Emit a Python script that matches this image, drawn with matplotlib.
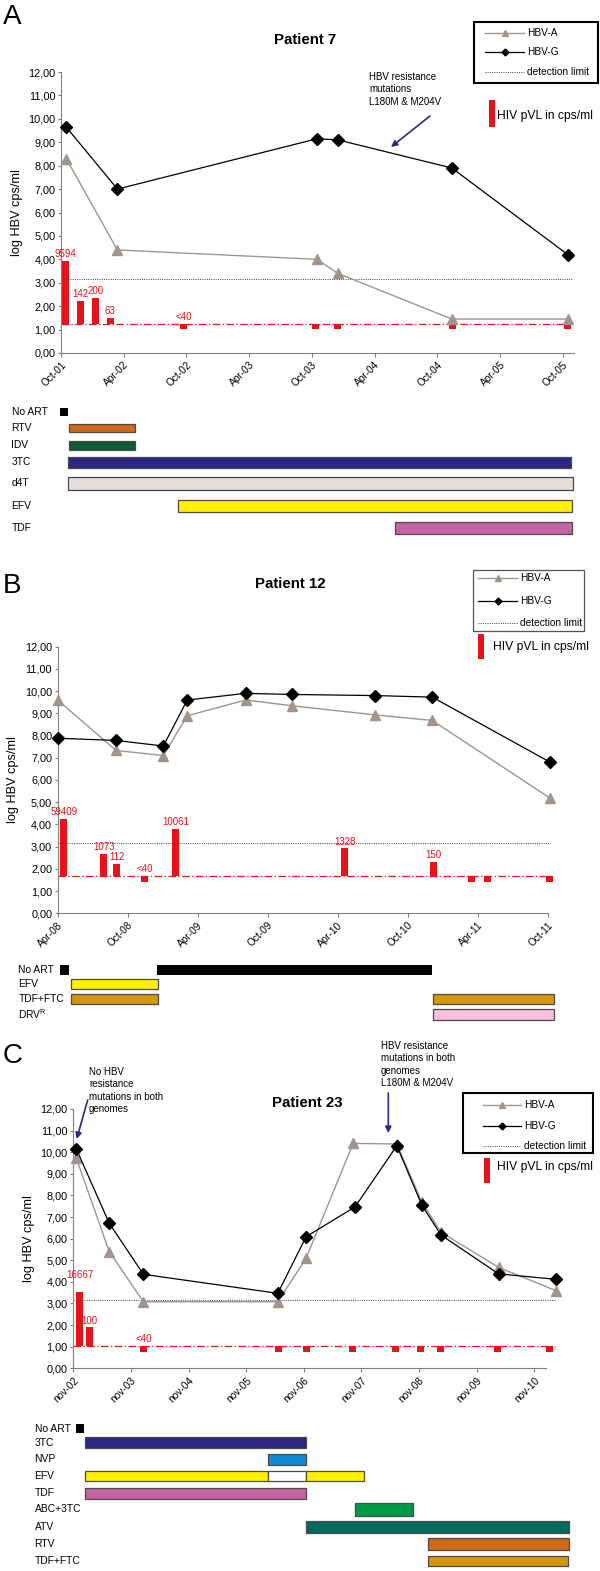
import numpy as np
import matplotlib.pyplot as plt
from matplotlib.patches import Rectangle

plt.rcParams['font.family'] = ['Liberation Sans', 'DejaVu Sans']

W, H = 600, 1571

############ data (x in months since first tick) ############
# Patient 7
a_ticks = ['Oct-01', 'Apr-02', 'Oct-02', 'Apr-03', 'Oct-03', 'Apr-04', 'Oct-04', 'Apr-05', 'Oct-05']
a_hbv_x = [0.5, 5.4, 24.5, 26.5, 37.4, 48.5]
a_hbv_a = [8.3, 4.4, 4.0, 3.4, 1.45, 1.45]
a_hbv_g = [9.65, 7.0, 9.15, 9.1, 7.9, 4.2]
a_hiv_x = [0.4, 1.9, 3.3, 4.7, 11.7, 24.4, 26.5, 37.5, 48.5]
a_hiv_top = [3.95, 2.22, 2.36, 1.5, 1.03, 1.03, 1.03, 1.03, 1.03]
a_hiv_lab = ['9594', '142', '200', '63', '<40', '', '', '', '']
a_hiv_base = 1.25
a_drugs = ['No ART', 'RTV', 'IDV', '3TC', 'd4T', 'EFV', 'TDF']
a_seg_drug = ['No ART', 'RTV', 'IDV', '3TC', 'd4T', 'EFV', 'TDF']
a_seg_start = [-0.1, 0.77, 0.77, 0.7, 0.7, 11.2, 32.0]
a_seg_end = [0.7, 7.1, 7.1, 48.8, 49.0, 48.9, 48.9]

# Patient 12
b_ticks = ['Apr-08', 'Oct-08', 'Apr-09', 'Oct-09', 'Apr-10', 'Oct-10', 'Apr-11', 'Oct-11']
b_hbv_x = [0, 5.0, 9.05, 11.1, 16.1, 20.1, 27.2, 32.1, 42.2]
b_hbv_a = [9.6, 7.33, 7.1, 8.89, 9.6, 9.34, 8.93, 8.68, 5.18]
b_hbv_g = [7.88, 7.78, 7.53, 9.6, 9.9, 9.85, 9.8, 9.73, 6.8]
b_hiv_x = [0.53, 3.93, 5.04, 7.44, 10.1, 24.6, 32.2, 35.5, 36.8, 42.1]
b_hiv_top = [4.26, 2.67, 2.22, 1.42, 3.81, 2.93, 2.31, 1.42, 1.42, 1.42]
b_hiv_lab = ['59409', '1073', '112', '<40', '10061', '1328', '150', '', '', '']
b_hiv_base = 1.68
b_drugs = ['No ART', 'EFV', 'TDF+FTC', 'DRV$^\\mathregular{R}$']
b_seg_drug = ['No ART', 'No ART', 'EFV', 'TDF+FTC', 'TDF+FTC', 'DRV$^\\mathregular{R}$']
b_seg_start = [0.2, 8.5, 1.14, 1.14, 32.2, 32.2]
b_seg_end = [0.93, 32.1, 8.6, 8.6, 42.5, 42.5]

# Patient 23
c_ticks = ['nov-02', 'nov-03', 'nov-04', 'nov-05', 'nov-06', 'nov-07', 'nov-08', 'nov-09', 'nov-10']
c_hbv_xa = [0.63, 7.5, 14.6, 42.6, 48.5, 58.3, 67.4, 72.6, 76.6, 88.6, 100.5]
c_hbv_a = [9.72, 5.4, 3.08, 3.08, 5.09, 10.41, 10.38, 7.7, 6.3, 4.67, 3.6]
c_hbv_xg = [0.63, 7.5, 14.6, 42.6, 48.5, 58.7, 67.4, 72.6, 76.6, 88.6, 100.5]
c_hbv_g = [10.15, 6.71, 4.35, 3.47, 6.09, 7.47, 10.3, 7.56, 6.17, 4.37, 4.12]
c_hiv_x = [1.33, 3.3, 14.6, 42.7, 48.6, 58.2, 67.2, 72.4, 76.5, 88.3, 99.3]
c_hiv_top = [3.52, 1.93, 0.77, 0.77, 0.77, 0.77, 0.77, 0.77, 0.77, 0.77, 0.77]
c_hiv_lab = ['16667', '100', '<40', '', '', '', '', '', '', '', '']
c_hiv_base = 1.03
c_drugs = ['No ART', '3TC', 'NVP', 'EFV', 'TDF', 'ABC+3TC', 'ATV', 'RTV', 'TDF+FTC']
c_seg_drug = ['No ART', '3TC', 'NVP', 'EFV', 'EFV paused', 'EFV', 'TDF', 'ABC+3TC', 'ATV', 'RTV', 'TDF+FTC']
c_seg_start = [0.56, 2.4, 40.6, 2.4, 40.6, 48.5, 2.4, 58.7, 48.5, 73.9, 73.9]
c_seg_end = [2.2, 48.5, 48.5, 40.6, 48.5, 60.6, 48.5, 70.8, 103.3, 103.3, 103.1]

det_limit = 3.18
###############################################################

RED = '#E8121B'
GREY = '#A09390'
NAVY = '#2B2A8C'
AXC = '#808080'
drug_colors = {
    'No ART': 'black', 'RTV': '#CF6A17', 'IDV': '#0E5B36', '3TC': '#2E2585',
    'd4T': '#E2DCDA', 'EFV': '#FFF000', 'EFV paused': 'white', 'TDF': '#C564A5',
    'TDF+FTC': '#D3960C', 'DRV$^\\mathregular{R}$': '#F8C0DC', 'NVP': '#0C8AD6',
    'ABC+3TC': '#009B48', 'ATV': '#006B5F',
}

fig = plt.figure(figsize=(W / 100, H / 100), dpi=100)


def px_axes(left, top, right, bottom):
    return fig.add_axes([left / W, 1 - bottom / H, (right - left) / W, (bottom - top) / H])


def chart(origin, ppm, xmax, top, bottom, step, ticks, xa, ya, xg, yg,
          hx, htop, hlab, base, line_end, lab_dy=None):
    ax = px_axes(origin, top, origin + xmax * ppm, bottom)
    ax.set_xlim(0, xmax)
    ax.set_ylim(0, 12)
    ax.set_facecolor('none')
    for s in ['top', 'right']:
        ax.spines[s].set_visible(False)
    for s in ['left', 'bottom']:
        ax.spines[s].set_color(AXC)
    ax.set_yticks(range(13))
    ax.set_yticklabels([f"{v:.2f}".replace('.', ',') for v in range(13)])
    ax.set_xticks(np.arange(len(ticks)) * step)
    ax.set_xticklabels(ticks, rotation=45, ha='right', rotation_mode='anchor')
    ax.tick_params(axis='y', length=2.5, pad=1.5, color=AXC, labelsize=7.8)
    ax.tick_params(axis='x', length=3, pad=2, color=AXC, labelsize=7.3)
    ax.set_ylabel('log HBV cps/ml', fontsize=9.2, labelpad=4)

    # hiv viral load bars hang from the baseline
    w = 7 / ppm
    heights = np.array(htop) - base
    ax.bar(hx, heights, bottom=base, width=w, color=RED, zorder=2, clip_on=False)
    for i, (x, t, s) in enumerate(zip(hx, htop, hlab)):
        if s:
            dy = 1.2 if lab_dy is None else lab_dy[i]
            ax.annotate(s, (x, max(t, base)), xytext=(0, dy), textcoords='offset points',
                        ha='center', va='bottom', color=RED, fontsize=7)
    ax.plot([0, line_end], [det_limit, det_limit], ls=(0, (1, 1.3)), color='#444', lw=0.7, clip_on=False)
    ax.plot([0, line_end], [base, base], ls=(0, (6, 2, 1, 2)), color=RED, lw=0.9, clip_on=False)

    ax.plot(xa, ya, color=GREY, lw=1, marker='^', ms=7.5, mec=GREY, mfc=GREY,
            clip_on=False, zorder=3)
    ax.plot(xg, yg, color='black', lw=0.9, marker='D', ms=6, clip_on=False, zorder=4)
    return ax


def regimen(origin, ppm, x0, x1, top, bottom, drugs, rows_y, rows_h, seg_drug, seg_s, seg_e, lab_x):
    ax = px_axes(origin + x0 * ppm, top, origin + x1 * ppm, bottom)
    ax.set_xlim(x0, x1)
    ax.set_ylim(bottom, top)
    ax.axis('off')
    for d, s, e in zip(seg_drug, seg_s, seg_e):
        row = drugs.index(d.replace(' paused', ''))
        ec = 'none' if d == 'No ART' else '#4a4a4a'
        ax.barh(rows_y[row], e - s, left=s, height=rows_h[row], color=drug_colors[d],
                edgecolor=ec, lw=0.9)
    for d, y in zip(drugs, rows_y):
        fig.text(lab_x / W, 1 - y / H, d, fontsize=7.4, va='center', ha='left')


# ---------- Panel A ----------
chart(61, 10.45, 49.1, 72, 353, 6, a_ticks, a_hbv_x, a_hbv_a, a_hbv_x, a_hbv_g,
      a_hiv_x, a_hiv_top, a_hiv_lab, a_hiv_base, 48.9)
regimen(61, 10.45, -1, 50, 400, 540, a_drugs,
        [412, 428, 445.5, 462.5, 483.5, 506, 528], [8, 8, 9, 11, 13, 12, 12],
        a_seg_drug, a_seg_start, a_seg_end, 11.5)

# ---------- Panel B ----------
chart(57.7, 11.67, 42.0, 646.7, 913.3, 6, b_ticks, b_hbv_x, b_hbv_a, b_hbv_x, b_hbv_g,
      b_hiv_x, b_hiv_top, b_hiv_lab, b_hiv_base, 42.2)
regimen(57.7, 11.67, -1, 44, 955, 1030, b_drugs,
        [970, 984, 999, 1014.5], [10, 10, 10, 11],
        b_seg_drug, b_seg_start, b_seg_end, 18.5)

# ---------- Panel C ----------
c_lab_dy = [9, 0.5, 1.2] + [1.2] * 8
chart(73.3, 4.8, 98.4, 1109, 1368.3, 12, c_ticks, c_hbv_xa, c_hbv_a, c_hbv_xg, c_hbv_g,
      c_hiv_x, c_hiv_top, c_hiv_lab, c_hiv_base, 100.4, c_lab_dy)
regimen(73.3, 4.8, -1, 104, 1415, 1571, c_drugs,
        [1428.5, 1442.5, 1459.5, 1476, 1493.5, 1509.5, 1527, 1544, 1561],
        [9, 11, 11, 10, 11, 13, 12, 12, 10],
        c_seg_drug, c_seg_start, c_seg_end, 34.6)

# ---------- overlay: letters, titles, legends, arrows ----------
ov = fig.add_axes([0, 0, 1, 1])
ov.set_xlim(0, W)
ov.set_ylim(H, 0)
ov.axis('off')

for letter, y in [('A', 24), ('B', 593), ('C', 1063)]:
    ov.text(3, y, letter, fontsize=20, va='baseline', ha='left')
for title, x, y in [('Patient 7', 305, 40), ('Patient 12', 290, 584), ('Patient 23', 307, 1103)]:
    ov.text(x, y, title, fontsize=10.8, fontweight='bold', ha='center', va='center')


def legend(box, rows, lx0, lx1, tx, lw, ec, hiv_rect, hiv_txt):
    l, t, r, b = box
    ov.add_patch(Rectangle((l, t), r - l, b - t, fill=False, ec=ec, lw=lw))
    xm = (lx0 + lx1) / 2
    ov.plot([lx0, lx1], [rows[0]] * 2, color=GREY, lw=1)
    ov.plot([xm], [rows[0]], marker='^', ms=4.5, color=GREY)
    ov.plot([lx0, lx1], [rows[1]] * 2, color='black', lw=0.9)
    ov.plot([xm], [rows[1]], marker='D', ms=3.5, color='black')
    ov.plot([lx0, lx1], [rows[2]] * 2, ls=(0, (1, 1.3)), color='#444', lw=0.7)
    for lab, y in zip(['HBV-A', 'HBV-G', 'detection limit'], rows):
        ov.text(tx, y, lab, fontsize=7.3, va='center', ha='left')
    rl, rt, rr, rb = hiv_rect
    ov.add_patch(Rectangle((rl, rt), rr - rl, rb - rt, color=RED, lw=0))
    ov.text(hiv_txt[0], hiv_txt[1], 'HIV pVL in cps/ml', fontsize=8.7, va='center', ha='left')


legend((474, 22, 598, 83), [33, 52, 72], 485, 524, 527, 1.5, 'black', (489, 100, 495, 127), (497, 116))
legend((473, 570, 584, 631), [578, 601, 623], 478, 517, 520, 0.9, '#555', (478, 634, 484, 659), (493, 647))
legend((463, 1093, 593, 1153), [1105, 1126, 1146], 483, 521, 524, 1.5, 'black', (484, 1158, 490, 1183), (497, 1167))

ann = dict(fontsize=7, va='top', ha='left', linespacing=1.3)
ov.text(369, 72, 'HBV resistance\nmutations\nL180M & M204V', **ann)
ov.text(89, 1067, 'No HBV\nresistance\nmutations in both\ngenomes', **ann)
ov.text(381, 1041, 'HBV resistance\nmutations in both\ngenomes\nL180M & M204V', **ann)

arrow = dict(arrowstyle='-|>', color=NAVY, lw=1.2, mutation_scale=9, shrinkA=0, shrinkB=0)
ov.annotate('', xy=(391, 147), xytext=(430, 116), arrowprops=arrow)
ov.annotate('', xy=(76.7, 1139), xytext=(87.7, 1100), arrowprops=arrow)
ov.annotate('', xy=(388.3, 1133), xytext=(388.3, 1093), arrowprops=arrow)

fig.savefig('out.png', dpi=100)
